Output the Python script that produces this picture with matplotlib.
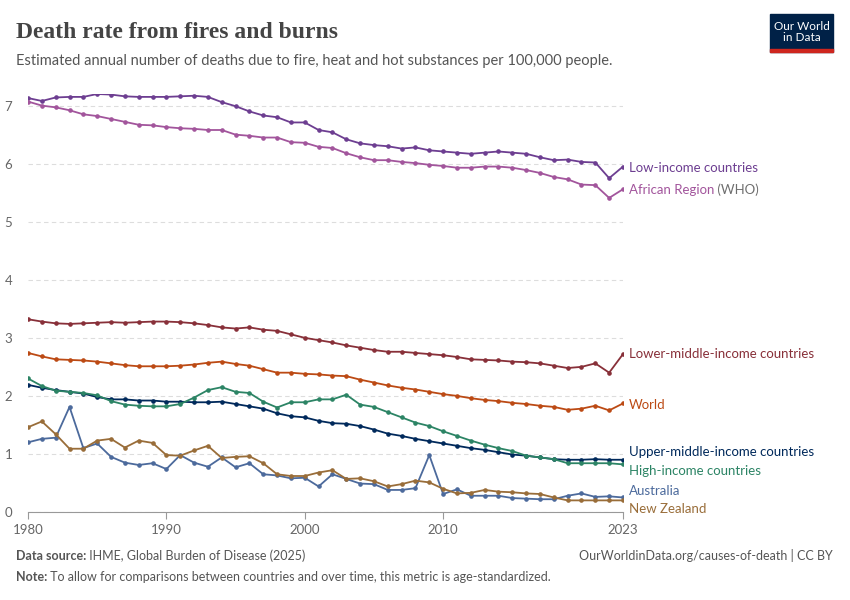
import matplotlib
matplotlib.use("Agg")
import matplotlib.pyplot as plt
from matplotlib.patches import Rectangle

plt.rcParams['font.family'] = ['Lato', 'DejaVu Sans']

years = list(range(1980, 2024))
low_income = [7.13,7.08,7.14,7.15,7.15,7.20,7.19,7.16,7.15,7.15,7.15,7.16,7.17,7.15,7.06,6.99,6.90,6.83,6.80,6.71,6.71,6.58,6.54,6.42,6.35,6.32,6.30,6.26,6.28,6.23,6.21,6.19,6.17,6.19,6.21,6.19,6.17,6.11,6.06,6.07,6.03,6.02,5.75,5.95]
african = [7.07,7.00,6.97,6.92,6.85,6.82,6.77,6.72,6.67,6.66,6.63,6.61,6.60,6.58,6.58,6.50,6.48,6.45,6.45,6.37,6.36,6.29,6.27,6.18,6.11,6.06,6.06,6.03,6.01,5.98,5.96,5.93,5.93,5.95,5.95,5.93,5.89,5.84,5.77,5.73,5.64,5.63,5.41,5.56]
lower_middle = [3.32,3.28,3.25,3.24,3.25,3.26,3.27,3.26,3.27,3.28,3.28,3.27,3.25,3.22,3.18,3.16,3.18,3.14,3.12,3.06,3.00,2.96,2.92,2.87,2.83,2.79,2.76,2.76,2.74,2.72,2.70,2.67,2.63,2.62,2.61,2.59,2.58,2.56,2.52,2.48,2.50,2.56,2.40,2.72]
world = [2.74,2.68,2.63,2.62,2.61,2.59,2.56,2.53,2.51,2.51,2.51,2.52,2.54,2.57,2.59,2.55,2.52,2.46,2.40,2.40,2.38,2.37,2.35,2.34,2.28,2.23,2.18,2.14,2.11,2.07,2.03,2.00,1.96,1.93,1.91,1.88,1.86,1.83,1.81,1.76,1.78,1.83,1.75,1.87]
upper_middle = [2.19,2.14,2.10,2.07,2.04,1.98,1.94,1.94,1.92,1.92,1.90,1.90,1.89,1.89,1.90,1.86,1.82,1.78,1.70,1.65,1.63,1.57,1.53,1.52,1.48,1.42,1.35,1.31,1.26,1.22,1.18,1.14,1.10,1.07,1.03,0.99,0.97,0.94,0.91,0.90,0.90,0.91,0.90,0.90]
high_income = [2.30,2.17,2.09,2.07,2.05,2.01,1.91,1.85,1.83,1.82,1.82,1.86,1.97,2.10,2.15,2.07,2.05,1.90,1.80,1.89,1.89,1.94,1.94,2.02,1.85,1.81,1.72,1.63,1.54,1.48,1.39,1.31,1.23,1.16,1.10,1.05,0.97,0.94,0.91,0.84,0.84,0.84,0.84,0.82]
australia = [1.20,1.26,1.28,1.81,1.10,1.18,0.95,0.85,0.81,0.84,0.74,0.98,0.85,0.78,0.94,0.77,0.84,0.65,0.63,0.58,0.59,0.44,0.65,0.57,0.49,0.48,0.38,0.38,0.41,0.98,0.31,0.39,0.28,0.28,0.28,0.24,0.23,0.22,0.22,0.28,0.32,0.26,0.27,0.25]
new_zealand = [1.46,1.56,1.34,1.09,1.09,1.23,1.26,1.11,1.23,1.19,0.98,0.97,1.06,1.14,0.93,0.95,0.96,0.84,0.65,0.62,0.62,0.68,0.72,0.57,0.58,0.53,0.44,0.48,0.54,0.51,0.40,0.32,0.33,0.38,0.35,0.34,0.32,0.31,0.25,0.20,0.20,0.20,0.20,0.20]

series = [
    ("Low-income countries", low_income, "#6d3e91", 5.93),
    ("African Region", african, "#a2559c", 5.55),
    ("Lower-middle-income countries", lower_middle, "#883039", 2.72),
    ("World", world, "#bc4a14", 1.85),
    ("Upper-middle-income countries", upper_middle, "#00295b", 1.03),
    ("High-income countries", high_income, "#2c8465", 0.70),
    ("Australia", australia, "#4c6a9c", 0.37),
    ("New Zealand", new_zealand, "#996d39", 0.05),
]

fig = plt.figure(figsize=(8.5, 6), dpi=100)
ax = fig.add_axes([28/850, 88/600, (623-28)/850, (509-91)/600])
fig.canvas.draw()
for name, vals, col, ly in series:
    ax.plot(years, vals, color=col, lw=1.3, marker='o', ms=2.3, zorder=3)
    t = ax.text(2023.4, ly, name, color=col, fontsize=9.5, va='center')
    if name == "African Region":
        ax.annotate(" (WHO)", xycoords=t, xy=(1, 0.5), va='center', color='#6e6e6e', fontsize=9.5)

ax.set_xlim(1980, 2023)
ax.set_ylim(0, 7.2)
ax.set_yticks(range(0, 8))
ax.set_xticks([1980, 1990, 2000, 2010, 2023])
ax.tick_params(axis='y', length=0, labelsize=9.5, labelcolor='#666666', pad=2)
ax.tick_params(axis='x', length=5, color='#999999', labelsize=9.5, labelcolor='#666666')
for lab in ax.get_yticklabels():
    lab.set_horizontalalignment('left')
    lab.set_x(-0.035)
ax.grid(axis='y', ls=(0, (4, 3)), color='#dddddd', lw=0.8)
for s in ['top', 'right', 'left']:
    ax.spines[s].set_visible(False)
ax.spines['bottom'].set_color('#999999')

fig.text(16/850, 1-32/600, "Death rate from fires and burns", fontsize=17, fontweight='bold',
         fontfamily=['Liberation Serif', 'DejaVu Serif'], color='#444444', va='center')
fig.text(16/850, 1-61/600, "Estimated annual number of deaths due to fire, heat and hot substances per 100,000 people.", fontsize=10.5, color='#555555', va='center')

fig.patches.append(Rectangle((770/850, 1-52/600), 63/850, 38/600, transform=fig.transFigure, color='#002147'))
fig.patches.append(Rectangle((770/850, 1-52/600), 63/850, 3/600, transform=fig.transFigure, color='#ce261e'))
fig.text(801.5/850, 1-32/600, "Our World\nin Data", fontsize=8.5, color='white', ha='center', va='center', linespacing=1.05)

def lead(y, bold, rest):
    t = fig.text(16/850, 1-y/600, bold, fontsize=9, fontweight='bold', color='#555555', va='center')
    fig.text(0, 0, " " + rest, fontsize=9, color='#555555', va='center',
             transform=fig.transFigure).set_position((0, 0))
    return t

t1 = fig.text(16/850, 1-556/600, "Data source:", fontsize=9, fontweight='bold', color='#555555', va='center')
plt.annotate(" IHME, Global Burden of Disease (2025)", xycoords=t1, xy=(1, 0.5), va='center', fontsize=9, color='#555555')
fig.text(833/850, 1-556/600, "OurWorldinData.org/causes-of-death | CC BY", fontsize=9, color='#555555', va='center', ha='right')
t2 = fig.text(16/850, 1-577/600, "Note:", fontsize=9, fontweight='bold', color='#555555', va='center')
plt.annotate(" To allow for comparisons between countries and over time, this metric is age-standardized.", xycoords=t2, xy=(1, 0.5), va='center', fontsize=9, color='#555555')

fig.savefig("out.png", dpi=100)
